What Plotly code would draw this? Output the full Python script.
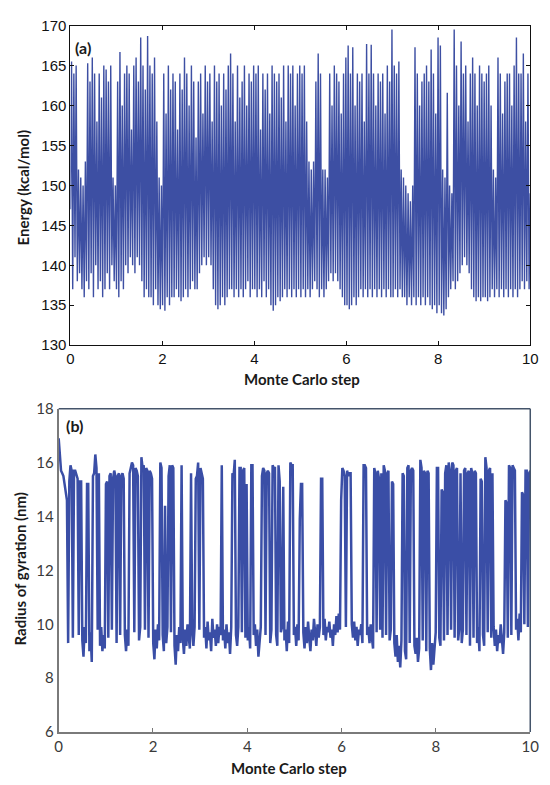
import plotly.graph_objects as go

# Panel (a): energy (kcal/mol), 400 samples over steps 0..10
energy = [
    147, 165.5, 137, 164, 141, 165, 138, 152, 139, 151,
    137, 150, 136, 153, 138, 165.3, 137, 163, 139, 166,
    136, 164, 140, 158, 137, 164, 138, 161, 136, 165,
    137, 164.5, 139, 163, 137, 165, 140, 151, 138, 150,
    137, 163, 136, 166.7, 138, 160, 137, 164, 140, 165,
    139, 164, 141, 157, 140, 165, 139, 166, 141, 163,
    140, 168.5, 138, 165, 136, 162, 137, 168.7, 136, 165,
    136, 164, 135, 166, 137, 158, 135, 151, 134.5, 150,
    135, 164, 134.3, 159, 136, 165, 135, 162, 136, 164,
    136, 163, 137, 157, 136, 164, 135.5, 162, 136, 166,
    137, 164, 136, 160, 137, 165, 138, 163, 137, 156,
    137, 163, 139, 164, 140, 159, 141, 165, 140, 163,
    141, 164, 140, 158, 137, 165, 135, 163, 134.5, 164,
    135, 160, 136, 164, 135, 162, 136, 165, 137, 166.5,
    137, 164, 136, 158, 137, 165, 136, 161, 137, 163,
    136, 165, 137, 160, 138, 164, 136, 163, 137, 165,
    137, 164, 136, 165, 137, 157, 136, 164, 138, 162,
    136, 164, 137, 159, 135, 165, 134.3, 164, 135, 163,
    136, 164, 135.5, 161, 136, 165, 137, 158, 136, 165,
    137, 164, 136, 165, 137, 160, 136, 164, 137, 165,
    136, 164, 137, 165, 136, 158, 137, 153, 136, 152,
    137, 153, 138, 163, 137, 166.5, 136, 164, 137, 152,
    136, 152, 137, 151, 138, 164, 139, 160, 138, 165,
    139, 164, 138, 163, 137, 159, 136, 164, 135, 166,
    135, 167.5, 134.5, 164, 135, 167.3, 136, 160, 135, 164,
    136, 163, 137, 164, 136, 158, 137, 167.7, 136, 164,
    137, 167.6, 136, 164, 137, 160, 136, 164, 137, 163,
    136, 164, 137, 159, 136, 165, 137, 163, 136, 169.5,
    136, 165, 137, 164, 136, 165.5, 137, 152, 136, 151,
    136, 150, 135, 149, 136, 148, 135, 150, 136, 167.3,
    135, 164, 136, 160, 135, 163, 136, 164, 135, 165,
    136, 163, 135, 167, 134.5, 164, 135, 159, 134, 168.5,
    135, 167.5, 134, 152, 133.7, 151, 134.5, 161.6, 136, 150,
    137, 149, 138, 169.5, 137, 165, 138, 160, 139, 168,
    140, 164, 141, 165, 140, 158, 139, 164, 137, 166,
    136, 164, 135.5, 160, 136, 165, 135.5, 164, 136, 163,
    136, 164, 135.5, 165, 136, 160, 137, 152, 136, 151,
    137, 166, 136, 164, 137, 159, 136, 163, 137, 164,
    136, 164, 137, 160, 136, 165, 137, 168.5, 136, 164,
    137, 164, 138, 166.5, 137, 158, 138, 164, 137, 149,
]

# Panel (b): radius of gyration (nm), 400 samples over steps 0..10
radius = [
    16.9, 16.2, 15.7, 15.6, 15.5, 15.2, 14.9, 14.6, 9.3, 15.3, 15.9, 15.7, 9.5, 15.7, 15.7, 15.5, 15.4, 9.6, 15.3, 15.3,
    9.4, 8.8, 9.9, 9.3, 15.2, 15.2, 9.0, 9.7, 8.6, 15.5, 15.6, 16.3, 15.8, 9.8, 15.6, 9.2, 9.9, 9.0, 9.6, 9.1,
    15.2, 15.3, 9.5, 15.5, 15.6, 9.8, 15.4, 15.7, 15.5, 9.3, 15.5, 15.6, 9.6, 15.5, 15.6, 15.4, 9.6, 9.0, 9.8, 9.2,
    15.6, 15.8, 16.0, 15.9, 9.7, 15.8, 15.7, 15.5, 9.4, 9.9, 16.2, 15.8, 15.9, 9.8, 15.8, 15.7, 9.5, 15.7, 15.6, 15.4,
    9.3, 8.7, 9.8, 9.1, 10.0, 9.4, 16.0, 15.8, 9.6, 9.0, 14.4, 9.3, 9.9, 15.5, 15.9, 9.7, 15.9, 15.8, 9.2, 8.5,
    9.6, 9.0, 9.9, 9.3, 15.9, 9.5, 8.9, 9.8, 9.2, 10.0, 9.4, 9.1, 15.6, 9.7, 9.2, 9.9, 15.4, 15.5, 16.0, 9.8,
    15.8, 15.6, 15.4, 9.5, 9.9, 9.1, 10.1, 9.4, 9.7, 9.0, 10.2, 9.5, 9.8, 9.2, 10.0, 9.3, 9.9, 9.6, 15.9, 9.4,
    9.8, 9.1, 10.0, 9.3, 9.7, 8.9, 9.9, 15.6, 15.5, 16.1, 9.6, 9.2, 9.9, 15.8, 15.8, 9.7, 15.7, 15.8, 9.5, 15.2,
    9.4, 9.9, 9.1, 15.9, 15.9, 9.6, 10.0, 9.2, 9.8, 8.8, 9.5, 9.9, 15.5, 15.8, 15.7, 9.6, 15.6, 15.7, 15.6, 9.3,
    9.8, 15.9, 15.8, 15.8, 9.6, 9.2, 15.9, 15.3, 9.7, 9.9, 15.1, 9.4, 9.8, 9.0, 10.1, 9.3, 16.0, 15.9, 15.9, 9.6,
    9.9, 9.2, 10.0, 9.4, 13.9, 15.2, 15.2, 9.7, 9.1, 9.9, 9.3, 10.1, 9.5, 9.0, 9.8, 9.4, 10.2, 9.6, 9.2, 10.0,
    9.5, 9.9, 15.4, 15.4, 9.6, 10.2, 9.4, 9.9, 9.7, 10.1, 9.5, 9.8, 9.2, 10.0, 9.6, 10.3, 9.7, 10.4, 9.8, 14.6,
    15.8, 15.7, 15.5, 9.9, 15.7, 15.5, 15.6, 15.6, 10.0, 9.5, 10.1, 9.4, 9.9, 9.2, 9.8, 9.6, 10.0, 9.3, 15.9, 15.9,
    15.8, 9.6, 9.9, 9.3, 10.0, 9.5, 9.1, 15.8, 15.6, 9.7, 15.7, 15.4, 9.8, 15.6, 9.5, 15.9, 15.7, 9.6, 15.6, 15.7,
    9.4, 9.8, 15.3, 15.2, 9.3, 8.8, 9.6, 8.6, 9.2, 8.4, 9.4, 15.6, 15.5, 9.0, 8.7, 15.8, 15.9, 9.3, 15.7, 15.8,
    15.7, 9.2, 8.9, 9.5, 8.6, 9.1, 16.1, 15.8, 9.4, 15.7, 15.6, 9.0, 15.7, 15.6, 9.1, 8.3, 9.3, 8.5, 9.2, 9.7,
    15.8, 15.8, 9.5, 9.2, 15.0, 14.9, 9.4, 15.6, 15.9, 9.6, 16.0, 15.7, 9.8, 16.0, 15.9, 9.5, 15.7, 15.8, 9.4, 9.9,
    15.6, 9.3, 9.8, 15.7, 15.8, 9.6, 15.6, 15.7, 9.2, 15.8, 15.6, 9.5, 15.7, 15.6, 9.3, 9.9, 9.0, 15.4, 15.3, 9.6,
    9.2, 16.2, 15.8, 9.7, 15.7, 15.8, 9.5, 15.6, 9.9, 9.2, 9.8, 9.0, 9.6, 9.3, 10.0, 9.4, 8.9, 9.7, 14.6, 14.5,
    9.5, 15.9, 15.8, 9.6, 15.9, 15.8, 15.7, 9.8, 10.2, 9.4, 10.4, 9.7, 14.9, 14.8, 10.0, 15.7, 15.7, 9.9, 15.6, 15.7,
]

x_ticks = [0, 2, 4, 6, 8, 10]
energy_ticks = [130, 135, 140, 145, 150, 155, 160, 165, 170]
radius_ticks = [6, 8, 10, 12, 14, 16, 18]

steps_a = [i * 10 / (len(energy) - 1) for i in range(len(energy))]
steps_b = [i * 10 / (len(radius) - 1) for i in range(len(radius))]

W, H = 550, 785
def fx(p):
    return p / W
def fy(p):
    return 1 - p / H

fig = go.Figure()
fig.add_trace(go.Scatter(x=steps_a, y=energy, mode="lines",
                         line=dict(color="#3d4fa3", width=1.4),
                         xaxis="x", yaxis="y", hoverinfo="skip"))
fig.add_trace(go.Scatter(x=steps_b, y=radius, mode="lines",
                         line=dict(color="#3a4ea6", width=2.5),
                         xaxis="x2", yaxis="y2", hoverinfo="skip"))

tick_a = dict(family="Liberation Sans, Arial", size=15, color="#111")
tick_b = dict(family="Lato, Open Sans", size=15, color="#3a3a3a")

fig.update_layout(
    width=W, height=H, margin=dict(l=0, r=0, t=0, b=0), autosize=False,
    paper_bgcolor="white", plot_bgcolor="white", showlegend=False,
    xaxis=dict(domain=[fx(68), fx(539)], anchor="y", range=[0, 10],
               tickvals=x_ticks, ticks="inside", ticklen=4, tickcolor="#111",
               showline=True, linecolor="#111", linewidth=1, mirror="ticks",
               showgrid=False, zeroline=False, tickfont=tick_a),
    yaxis=dict(domain=[fy(343), fy(16)], anchor="x", range=[130, 170],
               tickvals=energy_ticks, ticks="inside", ticklen=4, tickcolor="#111",
               showline=True, linecolor="#111", linewidth=1, mirror="ticks",
               showgrid=False, zeroline=False, tickfont=tick_a),
    xaxis2=dict(domain=[fx(56), fx(539)], anchor="y2", range=[0, 10],
                tickvals=x_ticks, ticks="inside", ticklen=4, tickcolor="#777",
                showline=True, linecolor="#7a7a7a", linewidth=2,
                showgrid=False, zeroline=False, tickfont=tick_b),
    yaxis2=dict(domain=[fy(739), fy(408)], anchor="x2", range=[6, 18],
                tickvals=radius_ticks, ticks="",
                showline=True, linecolor="#7a7a7a", linewidth=2,
                showgrid=False, zeroline=False, tickfont=tick_b),
)

# top and right frame lines of panel (b)
fig.add_shape(type="line", xref="paper", yref="paper",
              x0=fx(56), x1=fx(539), y0=fy(408), y1=fy(408),
              line=dict(color="#44546a", width=1.5))
fig.add_shape(type="line", xref="paper", yref="paper",
              x0=fx(539), x1=fx(539), y0=fy(408), y1=fy(739),
              line=dict(color="#44546a", width=1.5))

title_font = dict(family="Lato, Open Sans", size=15, color="#1a1a1a")
ann = [
    dict(text="<b>(a)</b>", x=fx(81), y=fy(38)),
    dict(text="<b>(b)</b>", x=fx(72), y=fy(425)),
    dict(text="<b>Monte Carlo step</b>", x=fx(305), y=fy(378)),
    dict(text="<b>Monte Carlo step</b>", x=fx(292), y=fy(776)),
    dict(text="<b>Energy (kcal/mol)</b>", x=fx(19), y=fy(182), textangle=-90),
    dict(text="<b>Radius of gyration (nm)</b>", x=fx(16), y=fy(572), textangle=-90),
]
for a in ann:
    fig.add_annotation(xref="paper", yref="paper", showarrow=False,
                       xanchor="center", yanchor="middle",
                       font=dict(title_font, size=16 if a["text"].startswith("<b>(") else 15),
                       **a)

fig.write_html("out.html", config={"displayModeBar": False},
               post_script="document.body.style.margin='0';")
